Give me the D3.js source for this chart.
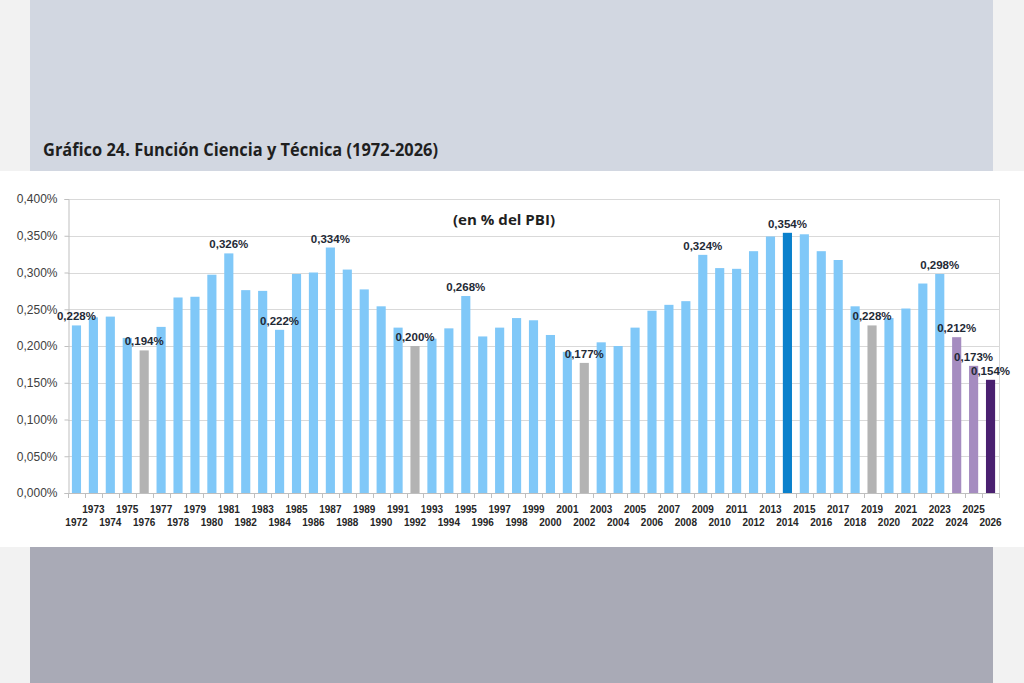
<!DOCTYPE html>
<html>
<head>
<meta charset="utf-8">
<script src="https://cdn.jsdelivr.net/npm/d3@7"></script>
<style>
  body { margin: 0; background: #f2f2f2; }
  svg { display: block; }
</style>
</head>
<body>
<svg id="chart" width="1024" height="683"></svg>
<script>
// years and values (% of GDP)
var years = d3.range(1972, 2027);
var values = [
  0.228, 0.239, 0.240, 0.211, 0.194, 0.226, 0.266, 0.267, 0.297, 0.326,
  0.276, 0.275, 0.222, 0.298, 0.300, 0.334, 0.304, 0.277, 0.254, 0.225,
  0.200, 0.210, 0.224, 0.268, 0.213, 0.225, 0.238, 0.235, 0.215, 0.192,
  0.177, 0.205, 0.200, 0.225, 0.248, 0.256, 0.261, 0.324, 0.306, 0.305,
  0.329, 0.349, 0.354, 0.352, 0.329, 0.317, 0.254, 0.228, 0.238, 0.251,
  0.285, 0.298, 0.212, 0.173, 0.154
];
// which bars carry a value label
var labelledYears = [1972, 1976, 1981, 1984, 1987, 1992, 1995, 2002, 2009, 2014, 2019, 2023, 2024, 2025, 2026];
// highlighted bars
var grayYears = [1976, 1992, 2002, 2019];
var yTicks = [0, 0.05, 0.1, 0.15, 0.2, 0.25, 0.3, 0.35, 0.4];

var data = years.map(function(y, i) { return {year: y, value: values[i]}; });

function barColor(y) {
  if (y == 2014) return "#0a80cc";
  if (y == 2026) return "#4a2070";
  if (y == 2024 || y == 2025) return "#a58cc0";
  if (grayYears.indexOf(y) >= 0) return "#b3b3b3";
  return "#80c8f8";
}

var fmt = function(v) { return d3.format(".3f")(v).replace(".", ",") + "%"; };

var svg = d3.select("#chart");

// page background panels
svg.append("rect").attr("x", 30).attr("y", 0).attr("width", 963).attr("height", 171).attr("fill", "#d2d7e1");
svg.append("rect").attr("x", 0).attr("y", 171).attr("width", 1024).attr("height", 376).attr("fill", "#ffffff");
svg.append("rect").attr("x", 30).attr("y", 547).attr("width", 963).attr("height", 136).attr("fill", "#a9aab6");

svg.append("text")
  .attr("x", 43).attr("y", 156)
  .attr("textLength", 395).attr("lengthAdjust", "spacingAndGlyphs")
  .style("font-family", "'Open Sans', sans-serif")
  .style("font-weight", "bold")
  .style("font-size", "17px")
  .style("fill", "#1f1f1f")
  .text("Gráfico 24. Función Ciencia y Técnica (1972-2026)");

var plot = {left: 68, right: 999, top: 199, bottom: 493};

var x = d3.scaleBand()
  .domain(years)
  .range([plot.left, plot.right])
  .paddingInner(0.46)
  .paddingOuter(0.23);

var y = d3.scaleLinear()
  .domain([0, 0.4])
  .range([plot.bottom, plot.top]);

var g = svg.append("g");

// gridlines
g.selectAll(".grid")
  .data(yTicks)
  .enter().append("line")
  .attr("x1", plot.left).attr("x2", plot.right)
  .attr("y1", function(d) { return Math.round(y(d)) + 0.5; })
  .attr("y2", function(d) { return Math.round(y(d)) + 0.5; })
  .attr("stroke", "#d9d9d9");

// right border of plot area
g.append("line")
  .attr("x1", plot.right + 0.5).attr("x2", plot.right + 0.5)
  .attr("y1", plot.top).attr("y2", plot.bottom)
  .attr("stroke", "#d9d9d9");

// y axis
var yAxis = g.append("g")
  .attr("transform", "translate(" + (plot.left + 0.5) + ",0)")
  .call(d3.axisLeft(y).tickValues(yTicks).tickSize(4).tickPadding(7).tickFormat(fmt));
yAxis.select(".domain").attr("stroke", "#bfbfbf");
yAxis.selectAll(".tick line").attr("stroke", "#bfbfbf");
yAxis.selectAll("text")
  .style("font-family", "'Liberation Sans', Arial, sans-serif")
  .style("font-size", "12px")
  .style("fill", "#404040");

// bars
g.selectAll(".bar")
  .data(data)
  .enter().append("rect")
  .attr("x", function(d) { return x(d.year); })
  .attr("y", function(d) { return y(d.value); })
  .attr("width", x.bandwidth())
  .attr("height", function(d) { return y(0) - y(d.value); })
  .attr("fill", function(d) { return barColor(d.year); });

// x axis line and ticks between categories
g.append("line")
  .attr("x1", plot.left).attr("x2", plot.right)
  .attr("y1", plot.bottom + 0.5).attr("y2", plot.bottom + 0.5)
  .attr("stroke", "#bfbfbf");

var step = x.step();
var bounds = years.map(function(yr) { return x(yr) - x.paddingInner() * step / 2; });
bounds.push(plot.right);
g.selectAll(".xtick")
  .data(bounds)
  .enter().append("line")
  .attr("x1", function(d) { return Math.round(d) + 0.5; })
  .attr("x2", function(d) { return Math.round(d) + 0.5; })
  .attr("y1", plot.bottom).attr("y2", plot.bottom + 5)
  .attr("stroke", "#bfbfbf");

// year labels, staggered in two rows
g.selectAll(".year")
  .data(years)
  .enter().append("text")
  .attr("x", function(d) { return x(d) + x.bandwidth() / 2; })
  .attr("y", function(d) { return d % 2 == 1 ? 513 : 526; })
  .attr("text-anchor", "middle")
  .style("font-family", "'Liberation Sans', Arial, sans-serif")
  .style("font-weight", "bold")
  .style("font-size", "10px")
  .style("fill", "#262626")
  .text(function(d) { return d; });

// value labels
g.selectAll(".vlabel")
  .data(data.filter(function(d) { return labelledYears.indexOf(d.year) >= 0; }))
  .enter().append("text")
  .attr("x", function(d) { return x(d.year) + x.bandwidth() / 2; })
  .attr("y", function(d) { return y(d.value) - 5; })
  .attr("text-anchor", "middle")
  .style("font-family", "'Liberation Sans', Arial, sans-serif")
  .style("font-weight", "bold")
  .style("font-size", "11.5px")
  .style("fill", "#1f2a36")
  .text(function(d) { return fmt(d.value); });

// subtitle
g.append("text")
  .attr("x", 504).attr("y", 225)
  .attr("text-anchor", "middle")
  .attr("textLength", 102).attr("lengthAdjust", "spacingAndGlyphs")
  .style("font-family", "'Open Sans', sans-serif")
  .style("font-weight", "bold")
  .style("font-size", "14px")
  .style("fill", "#1f1f1f")
  .text("(en % del PBI)");
</script>
</body>
</html>
